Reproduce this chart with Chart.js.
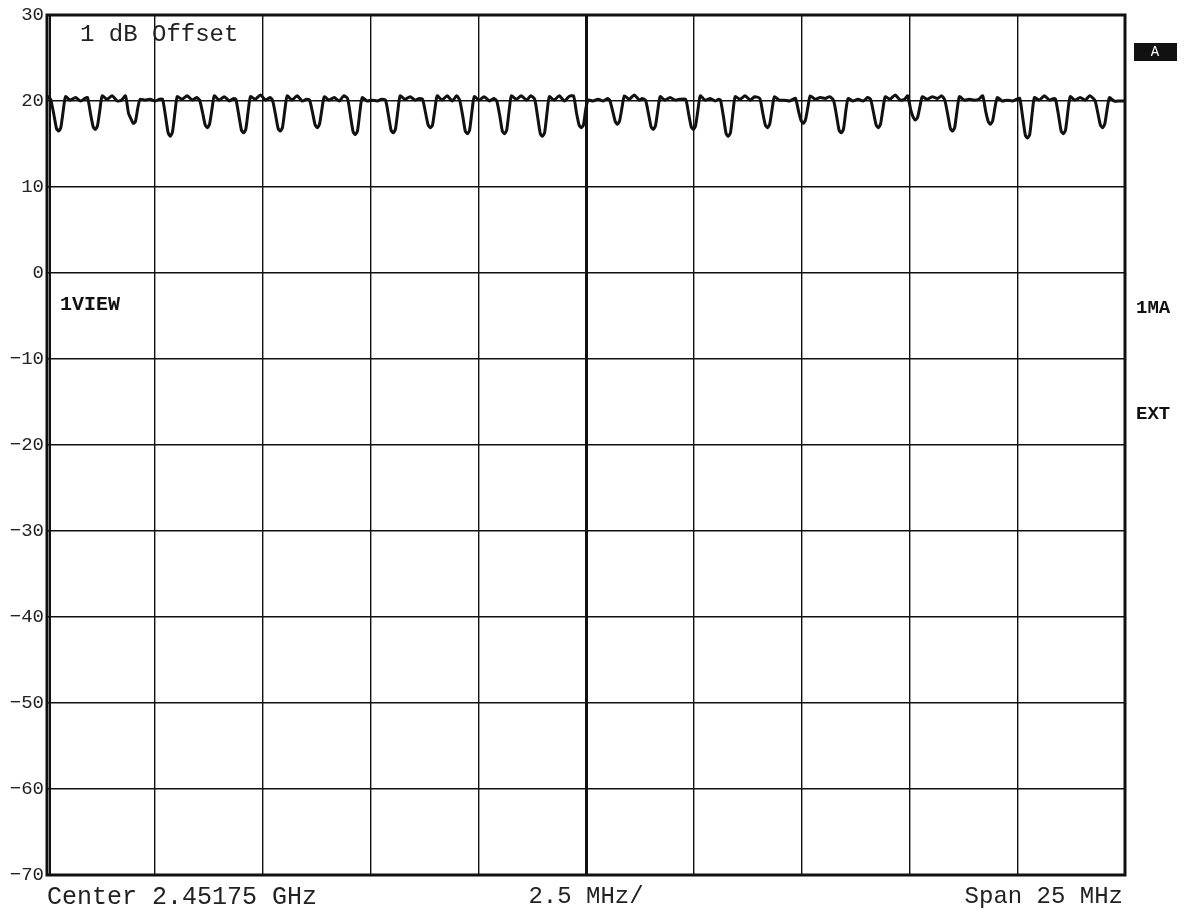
<!DOCTYPE html>
<html>
<head>
<meta charset="utf-8">
<title>Spectrum trace</title>
<script src="https://cdn.jsdelivr.net/npm/chart.js@4.4.1/dist/chart.umd.min.js"></script>
<style>
  html, body { margin: 0; padding: 0; background: #fff; }
  #wrap { width: 1186px; height: 917px; position: relative; }
</style>
</head>
<body>
<div id="wrap"><canvas id="spectrum" width="1186" height="917"></canvas></div>
<script>
// frequency offset from left edge of the screen (MHz), span 25 MHz
const traceFreqMHz = [
  0.00, 0.04,
  0.09, 0.16, 0.22, 0.27, 0.32, 0.38, 0.43, 0.54, 0.66, 0.78, 0.88,
  0.94, 1.01, 1.07, 1.12, 1.17, 1.23, 1.28, 1.39, 1.51, 1.63, 1.73,
  1.82, 1.89, 1.95, 2.00, 2.05, 2.11, 2.16, 2.27, 2.39, 2.51, 2.61,
  2.68, 2.75, 2.81, 2.86, 2.91, 2.97, 3.02, 3.13, 3.25, 3.37, 3.47,
  3.54, 3.61, 3.67, 3.72, 3.77, 3.83, 3.88, 3.99, 4.11, 4.23, 4.33,
  4.38, 4.45, 4.51, 4.56, 4.61, 4.67, 4.72, 4.83, 4.95, 5.07, 5.17,
  5.23, 5.30, 5.36, 5.41, 5.46, 5.52, 5.57, 5.68, 5.80, 5.92, 6.02,
  6.09, 6.16, 6.22, 6.27, 6.32, 6.38, 6.43, 6.54, 6.66, 6.78, 6.88,
  6.97, 7.04, 7.10, 7.15, 7.20, 7.26, 7.31, 7.42, 7.54, 7.66, 7.76,
  7.85, 7.92, 7.98, 8.03, 8.08, 8.14, 8.19, 8.30, 8.42, 8.54, 8.64,
  8.71, 8.78, 8.84, 8.89, 8.94, 9.00, 9.05, 9.16, 9.28, 9.40, 9.50,
  9.57, 9.64, 9.70, 9.75, 9.80, 9.86, 9.91, 10.02, 10.14, 10.26, 10.36,
  10.43, 10.50, 10.56, 10.61, 10.66, 10.72, 10.77, 10.88, 11.00, 11.12, 11.22,
  11.31, 11.38, 11.44, 11.49, 11.54, 11.60, 11.65, 11.76, 11.88, 12.00, 12.10,
  12.21, 12.28, 12.34, 12.39, 12.44, 12.50, 12.55, 12.66, 12.78, 12.90, 13.00,
  13.05, 13.12, 13.18, 13.23, 13.28, 13.34, 13.39, 13.50, 13.62, 13.74, 13.80,
  13.88, 13.95, 14.01, 14.06, 14.11, 14.17, 14.22, 14.33, 14.45, 14.57, 14.67,
  14.81, 14.88, 14.94, 14.99, 15.04, 15.10, 15.15, 15.26, 15.38, 15.50, 15.58,
  15.62, 15.69, 15.75, 15.80, 15.85, 15.91, 15.96, 16.07, 16.19, 16.31, 16.41,
  16.53, 16.60, 16.66, 16.71, 16.76, 16.82, 16.87, 16.98, 17.10, 17.22, 17.30,
  17.36, 17.43, 17.49, 17.54, 17.59, 17.65, 17.70, 17.81, 17.93, 18.05, 18.15,
  18.24, 18.31, 18.37, 18.42, 18.47, 18.53, 18.58, 18.69, 18.81, 18.93, 19.03,
  19.10, 19.17, 19.23, 19.28, 19.33, 19.39, 19.44, 19.55, 19.67, 19.79, 19.89,
  19.96, 20.03, 20.09, 20.14, 20.19, 20.25, 20.30, 20.41, 20.53, 20.65, 20.75,
  20.82, 20.89, 20.95, 21.00, 21.05, 21.11, 21.16, 21.27, 21.39, 21.51, 21.61,
  21.70, 21.77, 21.83, 21.88, 21.93, 21.99, 22.04, 22.15, 22.27, 22.39, 22.49,
  22.56, 22.63, 22.69, 22.74, 22.79, 22.85, 22.90, 23.01, 23.13, 23.25, 23.35,
  23.39, 23.46, 23.52, 23.57, 23.62, 23.68, 23.73, 23.84, 23.96, 24.08, 24.18,
  24.30, 24.37, 24.43, 24.48, 24.53, 24.59, 24.64, 24.75, 24.88, 25.00
];

// measured level (dB), same order as traceFreqMHz
const traceLevelDb = [
  20.2, 20.5,
  20.1, 18.4, 16.8, 16.5, 16.9, 19.0, 20.5, 20.1, 20.4, 20.0, 20.3,
  20.4, 18.5, 17.0, 16.7, 17.1, 19.1, 20.6, 20.2, 20.6, 20.0, 20.1,
  20.6, 18.6, 17.9, 17.4, 17.6, 19.3, 20.2, 20.1, 20.2, 20.0, 20.2,
  20.2, 18.2, 16.3, 15.9, 16.4, 18.8, 20.5, 20.2, 20.6, 20.1, 20.4,
  20.1, 18.6, 17.2, 16.9, 17.3, 19.2, 20.6, 20.1, 20.5, 20.0, 20.3,
  20.2, 18.3, 16.6, 16.3, 16.7, 19.0, 20.5, 20.2, 20.7, 20.1, 20.4,
  20.1, 18.4, 16.8, 16.5, 16.9, 19.1, 20.6, 20.1, 20.6, 20.0, 20.2,
  20.1, 18.6, 17.2, 16.9, 17.3, 19.2, 20.5, 20.1, 20.4, 20.0, 20.6,
  20.3, 18.2, 16.4, 16.1, 16.5, 18.9, 20.4, 20.0, 20.1, 20.0, 20.2,
  20.1, 18.3, 16.6, 16.3, 16.7, 19.0, 20.6, 20.2, 20.5, 20.1, 20.3,
  20.2, 18.6, 17.2, 16.9, 17.2, 19.2, 20.6, 20.1, 20.6, 20.0, 20.6,
  20.1, 18.3, 16.5, 16.2, 16.6, 19.0, 20.5, 20.1, 20.5, 20.0, 20.3,
  20.0, 18.3, 16.5, 16.2, 16.6, 19.0, 20.6, 20.2, 20.6, 20.1, 20.6,
  20.2, 18.1, 16.2, 15.9, 16.3, 18.8, 20.5, 20.1, 20.6, 20.0, 20.5,
  20.6, 18.6, 17.2, 16.9, 17.2, 19.2, 20.1, 20.0, 20.2, 20.0, 20.3,
  20.1, 18.8, 17.6, 17.3, 17.7, 19.4, 20.6, 20.2, 20.7, 20.1, 20.3,
  20.1, 18.5, 17.0, 16.7, 17.1, 19.1, 20.5, 20.1, 20.4, 20.1, 20.2,
  20.2, 18.5, 17.0, 16.7, 17.1, 19.1, 20.6, 20.1, 20.3, 20.0, 20.2,
  20.1, 18.1, 16.2, 15.9, 16.3, 18.8, 20.5, 20.2, 20.6, 20.1, 20.5,
  20.3, 18.6, 17.2, 16.9, 17.3, 19.2, 20.5, 20.1, 20.1, 20.0, 20.2,
  20.3, 18.8, 17.7, 17.4, 17.8, 19.4, 20.6, 20.2, 20.4, 20.3, 20.5,
  20.1, 18.3, 16.6, 16.3, 16.7, 19.0, 20.3, 20.0, 20.2, 20.0, 20.4,
  20.2, 18.6, 17.2, 16.9, 17.3, 19.2, 20.5, 20.2, 20.7, 20.1, 20.2,
  20.6, 19.0, 18.1, 17.8, 18.1, 19.5, 20.5, 20.2, 20.5, 20.3, 20.6,
  20.1, 18.4, 16.8, 16.5, 16.9, 19.1, 20.5, 20.1, 20.2, 20.1, 20.2,
  20.6, 18.8, 17.6, 17.3, 17.7, 19.4, 20.4, 20.0, 20.1, 20.0, 20.2,
  20.3, 18.0, 16.0, 15.7, 16.1, 18.7, 20.4, 20.1, 20.6, 20.1, 20.3,
  20.2, 18.3, 16.5, 16.2, 16.6, 19.0, 20.5, 20.1, 20.4, 20.1, 20.6,
  20.1, 18.6, 17.2, 16.9, 17.3, 19.2, 20.4, 20.0, 20.0, 20.0
];

const yTicks = [30, 20, 10, 0, -10, -20, -30, -40, -50, -60, -70];
const centerLabel = 'Center 2.45175 GHz';
const divLabel = '2.5 MHz/';
const spanLabel = 'Span 25 MHz';
const offsetLabel = '1 dB Offset';
const sideLabels = ['1MA', 'EXT'];

const mono = '"Liberation Mono", "Courier New", monospace';
const ink = '#111';

const points = traceFreqMHz.map((f, i) => ({ x: f, y: traceLevelDb[i] }));

// annotations drawn on the canvas, like the analyzer screen
const screenText = {
  id: 'screenText',
  afterDraw(chart) {
    const c = chart.ctx;
    const area = chart.chartArea;
    c.save();
    c.fillStyle = '#222';
    c.textBaseline = 'middle';
    c.font = '24px ' + mono;
    c.textAlign = 'left';
    c.fillText(offsetLabel, 80, 35);
    c.font = '25px ' + mono;
    c.fillText(centerLabel, 47, 897);
    c.font = '24px ' + mono;
    c.textAlign = 'center';
    c.fillText(divLabel, 586, 897);
    c.textAlign = 'right';
    c.fillText(spanLabel, 1123, 897);

    c.font = 'bold 20px ' + mono;
    c.textAlign = 'left';
    c.fillStyle = ink;
    c.fillText('1VIEW', 60, 305);
    c.font = 'bold 19px ' + mono;
    c.fillText(sideLabels[0], 1136, 308);
    c.fillText(sideLabels[1], 1136, 414);

    // "A" trace marker box
    c.fillRect(1134, 43, 43, 18);
    c.fillStyle = '#fff';
    c.font = '14px ' + mono;
    c.textAlign = 'center';
    c.fillText('A', 1155, 52);

    // heavy frame
    c.strokeStyle = ink;
    c.lineWidth = 3;
    c.strokeRect(area.left, area.top, area.right - area.left, area.bottom - area.top);
    c.lineWidth = 2;
    c.beginPath();
    c.moveTo(area.left + 3, area.top);
    c.lineTo(area.left + 3, area.bottom);
    c.stroke();
    c.restore();
  }
};

new Chart(document.getElementById('spectrum'), {
  type: 'line',
  data: {
    datasets: [{
      label: 'Trace A',
      data: points,
      borderColor: ink,
      borderWidth: 3,
      pointRadius: 0,
      tension: 0.2,
      fill: false
    }]
  },
  options: {
    responsive: false,
    animation: false,
    devicePixelRatio: 1,
    layout: { padding: { top: 15, right: 61, bottom: 42, left: 0 } },
    plugins: {
      legend: { display: false },
      tooltip: { enabled: false }
    },
    scales: {
      x: {
        type: 'linear',
        min: 0,
        max: 25,
        ticks: { stepSize: 2.5, display: false },
        grid: {
          color: ink,
          drawTicks: false,
          lineWidth: (ctx) => (ctx.index === 5 ? 3 : 1.4)
        },
        border: { display: false },
        afterFit: (scale) => { scale.height = 0; }
      },
      y: {
        min: -70,
        max: 30,
        afterBuildTicks: (scale) => { scale.ticks = yTicks.map(v => ({ value: v })); },
        ticks: {
          color: '#222',
          padding: 3,
          font: { family: mono, size: 19 },
          callback: (v) => String(v).replace('-', '\u2212')
        },
        grid: {
          color: ink,
          drawTicks: false,
          lineWidth: 1.4
        },
        border: { display: false },
        afterFit: (scale) => { scale.width = 47; }
      }
    }
  },
  plugins: [screenText]
});
</script>
</body>
</html>
